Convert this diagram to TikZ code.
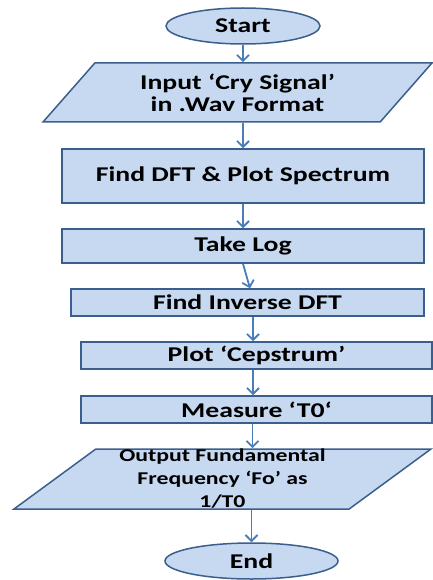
\documentclass[tikz,border=0pt]{standalone}
\usepackage{fontspec}
\setmainfont{Carlito}[FakeStretch=1.32]
\usetikzlibrary{shapes.geometric,arrows.meta,positioning}
\definecolor{relleno}{HTML}{C6D9F1}
\definecolor{borde}{HTML}{3B5F8C}
\definecolor{conector}{HTML}{4A7EBB}
\tikzset{
  term/.style={ellipse, draw=borde, fill=relleno, line width=1.5pt, inner sep=0pt,
               font=\bfseries\fontsize{21}{22}\selectfont},
  proc/.style={rectangle, draw=borde, fill=relleno, line width=1.5pt, inner sep=0pt,
               align=center, font=\bfseries\fontsize{21}{22}\selectfont},
  es/.style={trapezium, trapezium left angle=36, trapezium right angle=144,
             trapezium stretches body, draw=borde, fill=relleno, line width=1.5pt,
             inner sep=0pt, align=center, font=\bfseries\fontsize{21}{22}\selectfont},
  flecha/.style={-{Straight Barb[length=6pt,width=12pt]}, draw=conector, line width=1.8pt}
}
\begin{document}
\begin{tikzpicture}[x=1pt,y=-1pt]
\useasboundingbox (0,0) rectangle (432,580);
\node[term,minimum width=154pt,minimum height=36pt] (ini) at (243,26) {Start};
\node[es,minimum width=389pt,minimum height=59pt] (inp) at (237.5,92.5) {Input ‘Cry Signal’\\ in .Wav Format};
\node[proc,minimum width=362pt,minimum height=54pt] (dft) at (243,176) {Find DFT \& Plot Spectrum};
\node[proc,minimum width=362pt,minimum height=34pt] (log) at (243,246) {Take Log};
\node[proc,minimum width=353pt,minimum height=27pt] (inv) at (247.5,302.5) {Find Inverse DFT};
\node[proc,minimum width=351pt,minimum height=27pt] (cep) at (256.5,355.5) {Plot ‘Cepstrum’};
\node[proc,minimum width=351pt,minimum height=27pt] (mes) at (256.5,409.5) {Measure ‘T0‘};
\node[es,minimum width=417pt,minimum height=60pt,font=\bfseries\fontsize{18}{23}\selectfont] (out) at (222.5,479) {Output Fundamental\\ Frequency ‘Fo’ as\\ 1/T0};
\node[term,minimum width=173pt,minimum height=36pt] (fin) at (251.5,561) {End};

\draw[flecha] (ini.south) -- (ini.south |- inp.north);
\draw[flecha] (dft.north |- inp.south) -- (dft.north);
\draw[flecha] (dft) -- (log);
\draw[flecha] (log.south) -- ([xshift=2.5pt]inv.north);
\draw[flecha] ([xshift=5.5pt]inv.south) -- ([xshift=-3.5pt]cep.north);
\draw[flecha] ([xshift=-3.5pt]cep.south) -- ([xshift=-3.5pt]mes.north);
\draw[flecha] ([xshift=-4pt]mes.south) -- ([xshift=-4pt]mes.south |- out.north);
\draw[flecha] (fin.north |- out.south) -- (fin.north);
\end{tikzpicture}
\end{document}
